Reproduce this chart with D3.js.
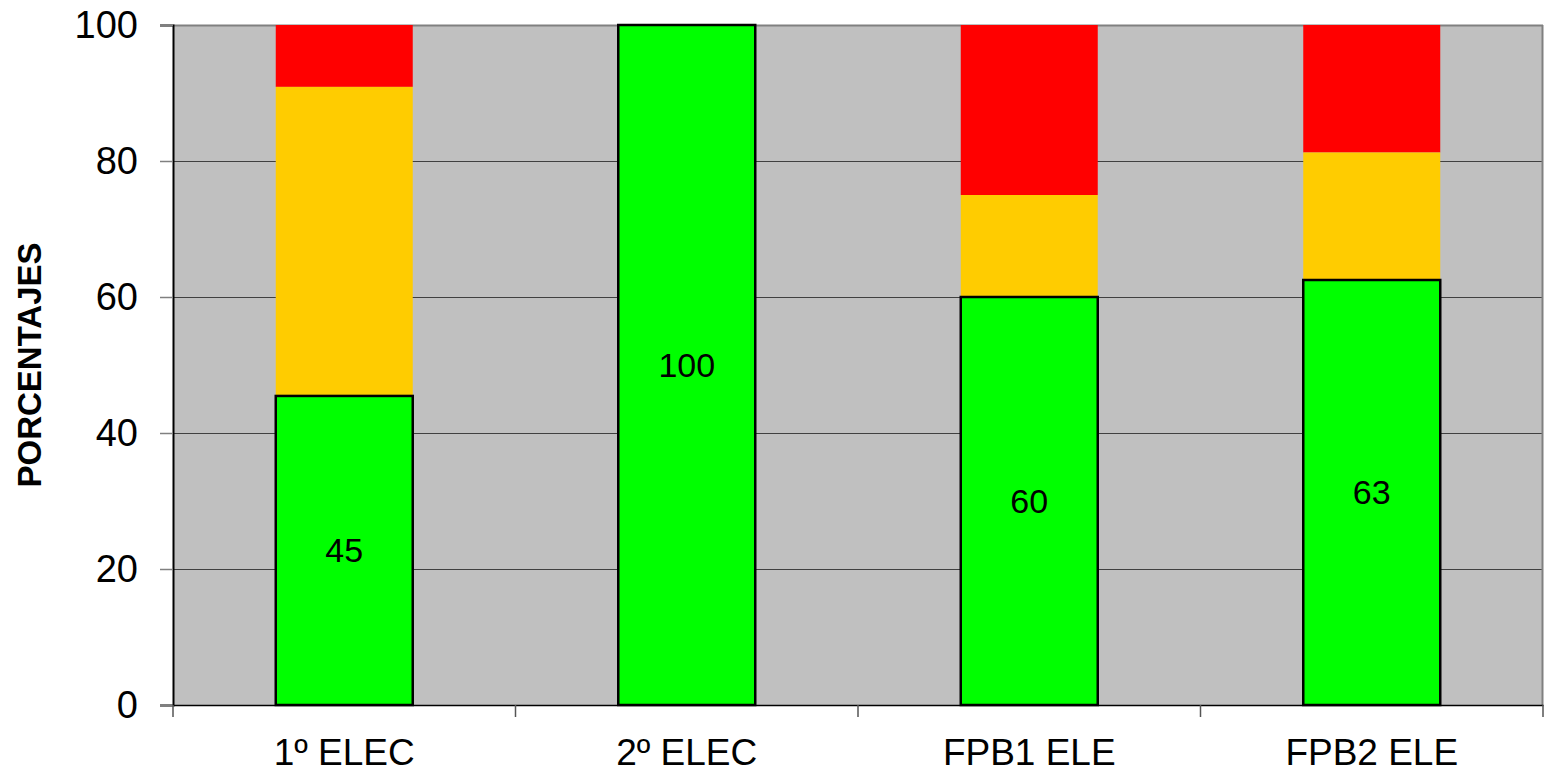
<!DOCTYPE html>
<html><head><meta charset="utf-8">
<script src="https://cdn.jsdelivr.net/npm/d3@7"></script>
<style>body{margin:0;background:#fff}svg{display:block}</style>
</head><body>
<svg id="c" width="1547" height="774"></svg>
<script>
const categories = ["1º ELEC", "2º ELEC", "FPB1 ELE", "FPB2 ELE"];
const greenVals  = [45.45, 100, 60, 62.5];
const orangeVals = [45.45, 0, 15, 18.75];
const redVals    = [9.1, 0, 25, 18.75];
const yTicks = [0, 20, 40, 60, 80, 100];
const seriesKeys = ["green", "orange", "red"];
const colors = {green: "#00ff00", orange: "#ffcc00", red: "#ff0000"};

const svg = d3.select("#c");
const L = 173, R = 1543, T = 25, B = 705;
const x = d3.scaleBand().domain(categories).range([L, R]).paddingInner(0).paddingOuter(0);
const y = d3.scaleLinear().domain([0, 100]).range([B, T]);

svg.append("rect").attr("x", L).attr("y", T).attr("width", R - L).attr("height", B - T).attr("fill", "#c0c0c0");

// gridlines
svg.append("g").selectAll("line").data(yTicks.filter(d => d > 0)).join("line")
  .attr("x1", L).attr("x2", R).attr("y1", d => y(d) + 0.5).attr("y2", d => y(d) + 0.5)
  .attr("stroke", d => d === 100 ? "#808080" : "#404040").attr("stroke-width", d => d === 100 ? 2 : 1);
svg.append("line").attr("x1", R - 0.5).attr("x2", R - 0.5).attr("y1", T).attr("y2", B).attr("stroke", "#808080").attr("stroke-width", 2);

const rows = categories.map((c, i) => ({cat: c, green: greenVals[i], orange: orangeVals[i], red: redVals[i]}));
const stacked = d3.stack().keys(seriesKeys)(rows);
const bw = x.bandwidth() * 0.4;
const off = (x.bandwidth() - bw) / 2;

stacked.slice().reverse().forEach(s => {
  svg.append("g").selectAll("rect").data(s.filter(d => d[1] - d[0] > 0)).join("rect")
    .attr("x", d => x(d.data.cat) + off)
    .attr("width", bw)
    .attr("y", d => y(Math.min(100, d[1])))
    .attr("height", d => y(d[0]) - y(Math.min(100, d[1])))
    .attr("fill", colors[s.key])
    .attr("stroke", s.key === "green" ? "#000" : "none")
    .attr("stroke-width", 2.5);
});

// labels
svg.append("g").selectAll("text").data(stacked[0]).join("text")
  .attr("x", d => x(d.data.cat) + x.bandwidth() / 2)
  .attr("y", d => y((d[0] + d[1]) / 2))
  .attr("dy", "0.35em")
  .attr("text-anchor", "middle")
  .attr("font-family", "Liberation Sans, Arial, sans-serif")
  .attr("font-size", 34)
  .text(d => Math.round(d.data.green));

// y axis
const yAxis = d3.axisLeft(y).tickValues(yTicks).tickSize(13).tickPadding(22);
const gy = svg.append("g").attr("transform", `translate(${L},0)`).call(yAxis);
gy.select(".domain").attr("stroke", "#000").attr("stroke-width", 2);
gy.selectAll(".tick line").attr("stroke", "#808080").attr("stroke-width", 1.5);
gy.selectAll("text").attr("font-family", "Liberation Sans, Arial, sans-serif").attr("font-size", 38).attr("fill", "#000");

// x axis
const xAxis = d3.axisBottom(x).tickSize(0).tickPadding(34).tickSizeOuter(0);
const gx = svg.append("g").attr("transform", `translate(0,${B})`).call(xAxis);
gx.select(".domain").attr("stroke", "#000").attr("stroke-width", 1.5);
gx.selectAll("text").attr("font-family", "Liberation Sans, Arial, sans-serif").attr("font-size", 37).attr("fill", "#000");
const bounds = categories.map(c => x(c)).concat([R]);
svg.append("g").selectAll("line").data(bounds).join("line")
  .attr("x1", d => d).attr("x2", d => d).attr("y1", B).attr("y2", B + 12)
  .attr("stroke", "#555").attr("stroke-width", 1.5);

svg.append("text")
  .attr("transform", "translate(41,365) rotate(-90)")
  .attr("text-anchor", "middle")
  .attr("font-family", "Liberation Sans, Arial, sans-serif")
  .attr("font-weight", "bold")
  .attr("font-size", 33)
  .text("PORCENTAJES");
</script>
</body></html>
